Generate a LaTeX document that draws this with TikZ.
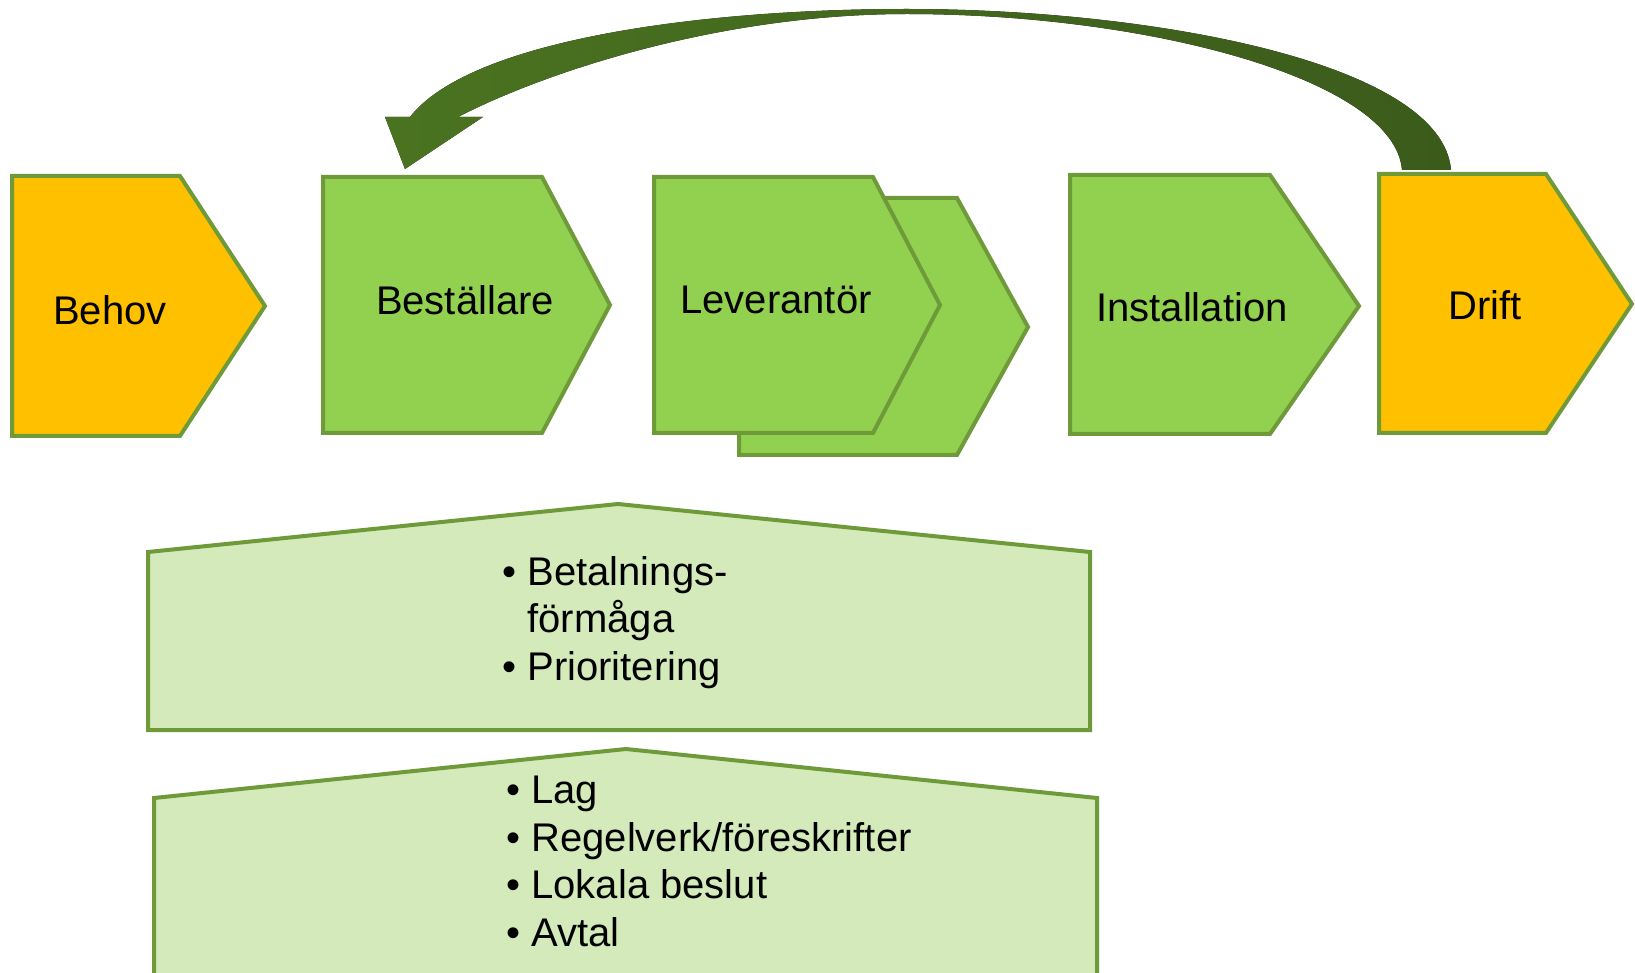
\documentclass[tikz,border=0pt]{standalone}
\usepackage{fontspec}
\setmainfont{Liberation Sans}
\usepackage{tikz}
\definecolor{phaseorange}{HTML}{FFC000}
\definecolor{phasegreen}{HTML}{92D050}
\definecolor{phaseborder}{HTML}{6E9A3A}
\definecolor{basefill}{HTML}{D4EABA}
\definecolor{arrowleft}{HTML}{4A7320}
\definecolor{arrowright}{HTML}{3B5B1B}
\tikzset{
phase/.style={draw=phaseborder, line width=2pt}, % outline of every step and box
needs/.style={phase, fill=phaseorange}, % first and last step
work/.style={phase, fill=phasegreen}, % the steps in between
basis/.style={phase, fill=basefill}, % the boxes underneath
phasetext/.style={font=\fontsize{20}{24}\selectfont}, % names of the steps
listtext/.style={font=\fontsize{20}{23.75}\selectfont, align=left, anchor=north west, inner sep=0pt}, % bullet lists
}

\begin{document}
\begin{tikzpicture}[x=0.5pt, y=-0.5pt]
		\clip (0,0) rectangle (1635,973);
		% steps
		\draw[needs] (12,176) -- (180,176) -- (265,306) -- (180,436) -- (12,436) -- cycle;
		\draw[work] (323,177) -- (542,177) -- (610,305) -- (542,433) -- (323,433) -- cycle;
		\draw[work] (739,198) -- (957,198) -- (1028,327) -- (957,455) -- (739,455) -- cycle;
		\draw[work] (654,177) -- (873,177) -- (940,305) -- (873,433) -- (654,433) -- cycle;
		\draw[work] (1070,175) -- (1270,175) -- (1359,306) -- (1270,434) -- (1070,434) -- cycle;
		\draw[needs] (1379,174) -- (1546,174) -- (1632,304) -- (1546,433) -- (1379,433) -- cycle;
		\node[phasetext] (behov) at (110,310) {Behov};
		\node[phasetext] (bestallare) at (465,300) {Beställare};
		\node[phasetext] (leverantor) at (776,300) {Leverantör};
		\node[phasetext] (installation) at (1192,307) {Installation};
		\node[phasetext] (drift) at (1485,305) {Drift};
		% feedback from Drift back to Beställare
		\fill[left color=arrowleft, right color=arrowright]
			(1451,170) .. controls (1442,62) and (1150,9) .. (907,9)
			.. controls (700,9) and (470,40) .. (410,117)
			-- (385,117) -- (405,169) -- (483,117) -- (458,117)
			.. controls (545,72) and (720,14) .. (907,14)
			.. controls (1150,14) and (1395,80) .. (1402,170) -- cycle;
		% boxes underneath
		\draw[basis] (148,552) -- (618,504) -- (1090,552) -- (1090,730) -- (148,730) -- cycle;
		\draw[basis] (154,798) -- (626,749) -- (1097,798) -- (1097,990) -- (154,990) -- cycle;
		\node[listtext] (betalning) at (502,556) {• Betalnings-\\\hphantom{• }förmåga\\• Prioritering};
		\node[listtext] (regler) at (506,776) {• Lag\\• Regelverk/föreskrifter\\• Lokala beslut\\• Avtal};
	\end{tikzpicture}
\end{document}
